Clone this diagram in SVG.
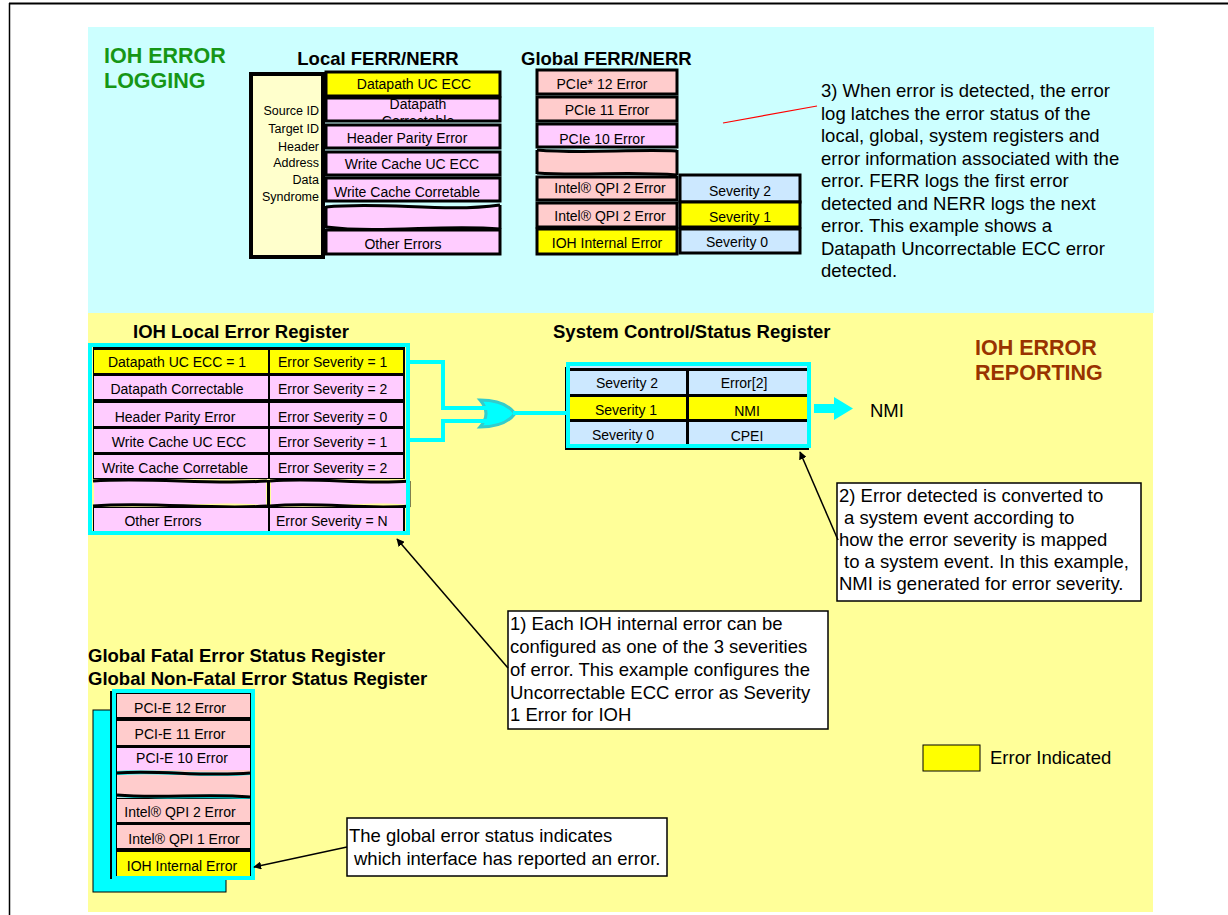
<svg xmlns="http://www.w3.org/2000/svg" width="1228" height="915" viewBox="0 0 1228 915">
<style>
text{font-family:"Liberation Sans",Arial,sans-serif;fill:#000}
.c{font-size:14px;text-anchor:middle}
.cs{font-size:14px}
.s{font-size:12.5px;text-anchor:end}
.t{font-size:18.5px;font-weight:bold}
.big{font-size:21.5px;font-weight:bold}
.n{font-size:18.5px}
.cell{stroke:#000;stroke-width:3}
.y{fill:#ffff00}
.p{fill:#ffccff}
.r{fill:#ffcccc}
.b{fill:#cce8ff}
.wv{fill:none;stroke:#000;stroke-width:3}
.cy{fill:none;stroke:#00ffff;stroke-width:4}
.ar{fill:none;stroke:#000;stroke-width:1.5;marker-end:url(#ah)}
.box{fill:#fff;stroke:#000;stroke-width:1.5}
</style>
<defs>
<marker id="ah" viewBox="0 0 10 10" refX="9" refY="5" markerWidth="8" markerHeight="8" orient="auto" markerUnits="userSpaceOnUse">
<path d="M0,0 L10,5 L0,10 z" fill="#000"/>
</marker>
<clipPath id="clipDC"><rect x="326" y="98" width="174" height="23"/></clipPath>
</defs>

<!-- frame and backgrounds -->
<g id="background">
<rect x="88" y="27" width="1066" height="286" fill="#ccffff"/>
<rect x="88" y="313" width="1065" height="599" fill="#ffff99"/>
<line x1="9" y1="3.5" x2="1228" y2="3.5" stroke="#000" stroke-width="2"/>
<line x1="9.5" y1="3" x2="9.5" y2="915" stroke="#000" stroke-width="1.5"/>
</g>

<g id="section-labels">
<text class="big" x="104" y="63" style="fill:#169616">IOH ERROR</text>
<text class="big" x="104" y="88" style="fill:#169616">LOGGING</text>
<text class="big" x="975" y="355" style="fill:#993300">IOH ERROR</text>
<text class="big" x="975" y="380" style="fill:#993300">REPORTING</text>
</g>

<!-- Local FERR/NERR -->
<g id="local-ferr">
<text class="t" x="378" y="65" text-anchor="middle">Local FERR/NERR</text>
<rect x="251" y="74" width="72" height="183" fill="#ffffcc" stroke="#000" stroke-width="4"/>
<text class="s" x="319" y="115">Source ID</text>
<text class="s" x="319" y="133">Target ID</text>
<text class="s" x="319" y="151">Header</text>
<text class="s" x="319" y="167">Address</text>
<text class="s" x="319" y="184">Data</text>
<text class="s" x="319" y="201">Syndrome</text>
<rect class="cell y" x="326" y="72" width="174" height="24"/>
<text class="c" x="414" y="89">Datapath UC ECC</text>
<rect class="cell p" x="326" y="98" width="174" height="23"/>
<g clip-path="url(#clipDC)">
<text class="c" x="418" y="109">Datapath</text>
<text class="c" x="418" y="126">Correctable</text>
</g>
<rect class="cell p" x="326" y="125" width="174" height="23"/>
<text class="c" x="407" y="143">Header Parity Error</text>
<rect class="cell p" x="326" y="152" width="174" height="23"/>
<text class="c" x="412" y="169">Write Cache UC ECC</text>
<rect class="cell p" x="326" y="178" width="174" height="23"/>
<text class="c" x="407" y="197">Write Cache Corretable</text>
<path class="p" d="M326,207 C384,201 442,213 500,205 L500,229 C442,224 384,234 326,227 Z"/>
<path class="wv" d="M326,207 C384,201 442,213 500,205"/>
<path class="wv" d="M326,227 C384,234 442,224 500,229"/>
<line x1="326" y1="206" x2="326" y2="228" stroke="#000" stroke-width="3"/>
<line x1="500" y1="205" x2="500" y2="229" stroke="#000" stroke-width="3"/>
<rect class="cell p" x="326" y="230" width="174" height="24"/>
<text class="c" x="403" y="249">Other Errors</text>
</g>

<!-- Global FERR/NERR -->
<g id="global-ferr">
<text class="t" x="521" y="65">Global FERR/NERR</text>
<rect class="cell r" x="537" y="70" width="140" height="24"/>
<text class="c" x="602" y="89">PCIe* 12 Error</text>
<rect class="cell r" x="537" y="97" width="140" height="24"/>
<text class="c" x="607" y="115">PCIe 11 Error</text>
<rect class="cell p" x="537" y="124" width="140" height="23"/>
<text class="c" x="602" y="144">PCIe 10 Error</text>
<path class="r" d="M537,150 C584,154 630,149 677,151 L677,175 C630,171 584,176 537,173 Z"/>
<path class="wv" d="M537,150 C584,154 630,149 677,151"/>
<path class="wv" d="M537,173 C584,176 630,171 677,175"/>
<line x1="537" y1="150" x2="537" y2="174" stroke="#000" stroke-width="3"/>
<line x1="677" y1="150" x2="677" y2="175" stroke="#000" stroke-width="3"/>
<rect class="cell r" x="537" y="177" width="140" height="23"/>
<text class="c" x="610" y="193">Intel® QPI 2 Error</text>
<rect class="cell r" x="537" y="203" width="140" height="24"/>
<text class="c" x="610" y="221">Intel® QPI 2 Error</text>
<rect class="cell y" x="537" y="229" width="140" height="25"/>
<text class="c" x="607" y="248">IOH Internal Error</text>
<rect class="cell b" x="680" y="175" width="120" height="27"/>
<text class="c" x="740" y="196">Severity 2</text>
<rect class="cell y" x="680" y="202" width="120" height="25"/>
<text class="c" x="740" y="222">Severity 1</text>
<rect class="cell b" x="680" y="229" width="120" height="24"/>
<text class="c" x="737" y="247">Severity 0</text>
</g>

<!-- Note 3 -->
<g id="note3">
<text class="n" x="821" y="97">3) When error is detected, the error</text>
<text class="n" x="821" y="120">log latches the error status of the</text>
<text class="n" x="821" y="142">local, global, system registers and</text>
<text class="n" x="821" y="165">error information associated with the</text>
<text class="n" x="821" y="187">error. FERR logs the first error</text>
<text class="n" x="821" y="210">detected and NERR logs the next</text>
<text class="n" x="821" y="232">error. This example shows a</text>
<text class="n" x="821" y="255">Datapath Uncorrectable ECC error</text>
<text class="n" x="821" y="277">detected.</text>
</g>

<!-- IOH Local Error Register -->
<g id="local-register">
<text class="t" x="133" y="338">IOH Local Error Register</text>
<rect x="93" y="347" width="312" height="185" fill="#000"/>
<rect class="y" x="94" y="350" width="174" height="23"/>
<rect class="y" x="270" y="350" width="133" height="23"/>
<rect class="p" x="94" y="376" width="174" height="23"/>
<rect class="p" x="270" y="376" width="133" height="23"/>
<rect class="p" x="94" y="403" width="174" height="23"/>
<rect class="p" x="270" y="403" width="133" height="23"/>
<rect class="p" x="94" y="429" width="174" height="23"/>
<rect class="p" x="270" y="429" width="133" height="23"/>
<rect class="p" x="94" y="455" width="174" height="23"/>
<rect class="p" x="270" y="455" width="133" height="23"/>
<rect fill="#ffff99" x="93" y="479" width="318" height="28"/>
<path class="p" d="M94,482 C150,478 210,486 266,482 L266,505 C210,500 150,509 94,505 Z"/>
<path class="p" d="M271,482 C320,478 360,486 410,482 L410,505 C360,500 320,509 271,505 Z"/>
<path class="wv" d="M93,481 C150,477 210,485 267,481"/>
<path class="wv" d="M93,506 C150,501 210,510 267,506"/>
<path class="wv" d="M270,481 C320,477 360,485 410,481"/>
<path class="wv" d="M270,506 C320,501 360,510 410,506"/>
<line x1="268.5" y1="480" x2="268.5" y2="507" stroke="#000" stroke-width="3"/>
<line x1="409" y1="481" x2="409" y2="507" stroke="#000" stroke-width="3"/>
<rect class="p" x="94" y="508" width="174" height="24"/>
<rect class="p" x="270" y="508" width="133" height="24"/>
<rect class="cy" x="90" y="345" width="318" height="188"/>
<text class="c" x="177" y="367">Datapath UC ECC = 1</text>
<text class="cs" x="278" y="367">Error Severity = 1</text>
<text class="c" x="177" y="394">Datapath Correctable</text>
<text class="cs" x="278" y="394">Error Severity = 2</text>
<text class="c" x="175" y="422">Header Parity Error</text>
<text class="cs" x="278" y="422">Error Severity = 0</text>
<text class="c" x="179" y="447">Write Cache UC ECC</text>
<text class="cs" x="278" y="447">Error Severity = 1</text>
<text class="c" x="175" y="473">Write Cache Corretable</text>
<text class="cs" x="278" y="473">Error Severity = 2</text>
<text class="c" x="163" y="526">Other Errors</text>
<text class="cs" x="276" y="526">Error Severity = N</text>
</g>

<!-- OR gate -->
<g id="or-gate">
<path d="M480,400 Q505,400 515,413.5 Q505,427 480,427 Q492,413.5 480,400 Z" fill="#00ffff" stroke="#33cccc" stroke-width="3"/>
</g>

<!-- System Control/Status Register -->
<g id="system-register">
<text class="t" x="553" y="338">System Control/Status Register</text>
<rect x="565" y="367" width="244" height="83" fill="#000"/>
<rect x="568" y="364" width="241" height="82" fill="#cce8ff" stroke="#00ffff" stroke-width="4"/>
<rect x="570" y="368" width="237" height="76" fill="#000"/>
<rect class="b" x="570" y="371" width="116" height="23"/>
<rect class="b" x="689" y="371" width="118" height="23"/>
<rect class="y" x="570" y="397" width="116" height="22"/>
<rect class="y" x="689" y="397" width="118" height="22"/>
<rect class="b" x="570" y="422" width="116" height="22"/>
<rect class="b" x="689" y="422" width="118" height="22"/>
<text class="c" x="627" y="388">Severity 2</text>
<text class="c" x="744" y="388">Error[2]</text>
<text class="c" x="626" y="415">Severity 1</text>
<text class="c" x="747" y="416">NMI</text>
<text class="c" x="623" y="440">Severity 0</text>
<text class="c" x="747" y="441">CPEI</text>
</g>

<g id="nmi-output">
<path d="M814,404 L834,404 L834,397 L853,408.5 L834,420 L834,413 L814,413 Z" fill="#00ffff"/>
<text class="n" x="870" y="417">NMI</text>
</g>

<!-- Note 2 -->
<g id="note2">
<rect class="box" x="837" y="483" width="304" height="118"/>
<text class="n" x="839" y="502">2) Error detected is converted to</text>
<text class="n" x="844" y="524">a system event according to</text>
<text class="n" x="839" y="546">how the error severity is mapped</text>
<text class="n" x="844" y="568">to a system event. In this example,</text>
<text class="n" x="839" y="590">NMI is generated for error severity.</text>
</g>

<!-- Note 1 -->
<g id="note1">
<rect class="box" x="508" y="611" width="320" height="118"/>
<text class="n" x="510" y="630">1) Each IOH internal error can be</text>
<text class="n" x="510" y="653">configured as one of the 3 severities</text>
<text class="n" x="510" y="676">of error. This example configures the</text>
<text class="n" x="510" y="699">Uncorrectable ECC error as Severity</text>
<text class="n" x="510" y="721">1 Error for IOH</text>
</g>

<!-- Global Fatal / Non-Fatal Error Status Register -->
<g id="global-status-register">
<text class="t" x="88" y="662">Global Fatal Error Status Register</text>
<text class="t" x="88" y="685">Global Non-Fatal Error Status Register</text>
<rect x="93" y="710" width="133" height="182" fill="#00ffff" stroke="#000" stroke-width="1"/>
<rect x="110" y="691" width="4" height="188" fill="#000"/>
<rect x="114" y="691" width="139" height="187" fill="#000" stroke="#00ffff" stroke-width="4"/>
<rect class="r" x="117" y="694" width="133" height="23"/>
<rect class="r" x="117" y="721" width="133" height="24"/>
<rect class="p" x="117" y="748" width="133" height="22"/>
<rect fill="#ffcccc" x="117" y="770" width="133" height="28"/>
<path fill="#00ffff" d="M117,771 C160,769 205,775 250,772 L250,775 C205,778 160,772 117,775 Z"/>
<path class="wv" d="M117,773 C160,770 205,777 250,773"/>
<path fill="#00ffff" d="M117,794 C160,798 205,792 250,796 L250,799 C205,797 160,800 117,797 Z"/>
<path class="wv" d="M117,795 C160,799 205,793 250,797"/>
<rect class="r" x="117" y="799" width="133" height="23"/>
<rect class="r" x="117" y="825" width="133" height="23"/>
<rect class="y" x="117" y="852" width="133" height="24"/>
<text class="c" x="180" y="713">PCI-E 12 Error</text>
<text class="c" x="180" y="739">PCI-E 11 Error</text>
<text class="c" x="182" y="763">PCI-E 10 Error</text>
<text class="c" x="180" y="817">Intel® QPI 2 Error</text>
<text class="c" x="184" y="844">Intel® QPI 1 Error</text>
<text class="c" x="182" y="871">IOH Internal Error</text>
</g>

<!-- Note 4 -->
<g id="note4">
<rect class="box" x="347" y="818" width="320" height="58"/>
<text class="n" x="349" y="842">The global error status indicates</text>
<text class="n" x="354" y="865">which interface has reported an error.</text>
</g>

<!-- Legend -->
<g id="legend">
<rect x="923" y="745" width="57" height="26" fill="#ffff00" stroke="#000" stroke-width="1"/>
<text class="n" x="990" y="764">Error Indicated</text>
</g>

<!-- connectors -->
<g id="connectors">
<path class="cy" d="M408,362 H443 V408 H488"/>
<path class="cy" d="M408,440 H443 V421 H488"/>
<path class="cy" d="M513,413 H567"/>
<line x1="723" y1="123" x2="817" y2="106" stroke="#ff0000" stroke-width="1.2"/>
<line class="ar" x1="838" y1="540" x2="800" y2="452"/>
<line class="ar" x1="508" y1="668" x2="397" y2="539"/>
<line class="ar" x1="347" y1="847" x2="254" y2="867"/>
</g>
</svg>
